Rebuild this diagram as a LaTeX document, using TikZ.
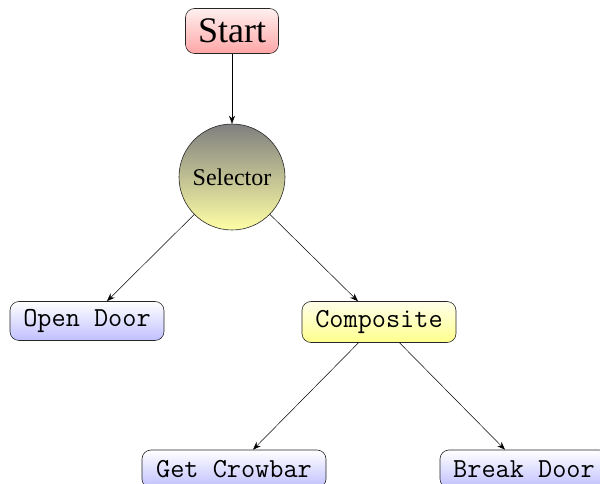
\documentclass[tikz,border=0pt]{standalone}
\usepackage{fontspec}
\setmainfont{Liberation Serif}
\usetikzlibrary{arrows.meta}
\begin{document}
\begin{tikzpicture}[x=1pt,y=1pt,
  box/.style={draw=black!85, line width=0.6pt, rounded corners=9pt, inner sep=0pt,
    font=\fontsize{27.5}{30}\selectfont\ttfamily},
  startbox/.style={box, top color=red!6, bottom color=red!35, font=\fontsize{36}{40}\selectfont},
  leafbox/.style={box, top color=white, bottom color=blue!25},
  compbox/.style={box, top color=yellow!8, bottom color=yellow!45},
  selnode/.style={circle, draw=black!85, line width=0.6pt, minimum size=106pt, inner sep=0pt,
    top color=black!50, bottom color=yellow!35, font=\fontsize{24}{27}\selectfont},
  link/.style={-{Stealth[length=8pt,width=6pt]}, line width=0.5pt}]
\useasboundingbox (0,0) rectangle (600,484);
\node[startbox, minimum width=93pt, minimum height=45pt] (start) at (232,453) {Start};
\node[selnode] (sel) at (232,307) {Selector};
\node[leafbox, minimum width=154pt, minimum height=39pt] (open) at (87,163) {Open Door};
\node[compbox, minimum width=154pt, minimum height=41pt] (comp) at (379,162) {Composite};
\node[leafbox, minimum width=184pt, minimum height=38pt] (crow) at (234,15) {Get Crowbar};
\node[leafbox, minimum width=168pt, minimum height=38pt] (brk) at (524,15) {Break Door};
\draw[link] (start) -- (sel);
\draw[link] (sel) -- (open);
\draw[link] (sel) -- (comp);
\draw[link] (comp) -- (crow);
\draw[link] (comp) -- (brk);
\end{tikzpicture}
\end{document}
